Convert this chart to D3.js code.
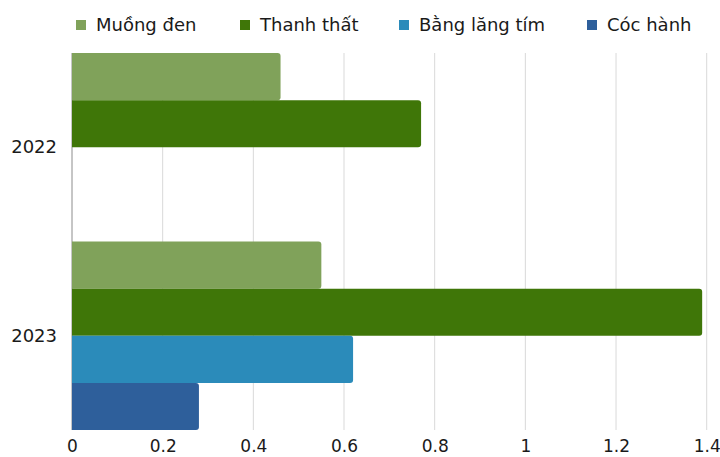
<!DOCTYPE html>
<html><head><meta charset="utf-8">
<script src="https://cdn.jsdelivr.net/npm/d3@7"></script>
<style>body{margin:0;background:#fff}svg{display:block;font-family:"DejaVu Sans",sans-serif}</style>
</head><body><svg id="c" width="720" height="457"></svg>
<script>
const categories = ["2022", "2023"];
const seriesNames = ["Muồng đen", "Thanh thất", "Bằng lăng tím", "Cóc hành"];
const muongDen = [0.46, 0.55];
const thanhThat = [0.77, 1.39];
const bangLangTim = [0, 0.62];
const cocHanh = [0, 0.28];
const xTicks = [0, 0.2, 0.4, 0.6, 0.8, 1, 1.2, 1.4];
const colors = ["#80a25a", "#3f7608", "#2b8bba", "#2e5f9b"];
const values = [muongDen, thanhThat, bangLangTim, cocHanh];

const FONT = "DejaVu Sans";
const svg = d3.select("#c");
const m = {l: 72, r: 13.3, t: 53, b: 27};
const W = 720, H = 457;
const x = d3.scaleLinear().domain([0, 1.4]).range([m.l, W - m.r]);
const y = d3.scaleBand().domain(categories).range([m.t, H - m.b]).padding(0);
const ys = d3.scaleBand().domain(seriesNames).range([0, y.bandwidth()]).padding(0);

// gridlines
svg.append("g").selectAll("line").data(xTicks.slice(1)).join("line")
  .attr("x1", d => x(d)).attr("x2", d => x(d))
  .attr("y1", m.t).attr("y2", H - m.b)
  .attr("stroke", "#d9d9d9").attr("stroke-width", 1);
// axis line at 0
svg.append("line").attr("x1", x(0)).attr("x2", x(0)).attr("y1", m.t).attr("y2", H - m.b)
  .attr("stroke", "#8c8c8c").attr("stroke-width", 1);

// bars
const r = 3;
function barPath(x0, x1, y0, h) {
  const w = x1 - x0;
  if (w <= 0) return "";
  const rr = Math.min(r, w, h / 2);
  return `M${x0},${y0}H${x1 - rr}Q${x1},${y0} ${x1},${y0 + rr}V${y0 + h - rr}Q${x1},${y0 + h} ${x1 - rr},${y0 + h}H${x0}Z`;
}
seriesNames.forEach((s, si) => {
  svg.append("g").selectAll("path").data(categories).join("path")
    .attr("d", (c, ci) => barPath(x(0), x(values[si][ci]), y(c) + ys(s), ys.bandwidth()))
    .attr("fill", colors[si]);
});

// x axis labels
const xAxis = d3.axisBottom(x).tickValues(xTicks).tickSize(0).tickPadding(0).tickFormat(d => String(d));
const gx = svg.append("g").attr("transform", `translate(0,${H - m.b})`).call(xAxis);
gx.select(".domain").remove();
gx.selectAll("text").attr("font-family", FONT).attr("font-size", 17).attr("fill", "#1a1a1a")
  .attr("dy", null).attr("y", 22);

// y axis labels
const yAxis = d3.axisLeft(y).tickSize(0).tickPadding(15);
const gy = svg.append("g").attr("transform", `translate(${m.l},0)`).call(yAxis);
gy.select(".domain").remove();
gy.selectAll("text").attr("font-family", FONT).attr("font-size", 18).attr("fill", "#1a1a1a");

// legend
const legendX = [76, 240, 399, 587];
const lg = svg.append("g");
seriesNames.forEach((s, i) => {
  const g = lg.append("g").attr("transform", `translate(${legendX[i]},0)`);
  g.append("rect").attr("x", 0).attr("y", 20).attr("width", 10).attr("height", 10).attr("fill", colors[i]);
  g.append("text").attr("x", 20).attr("y", 25).attr("dy", "0.35em").attr("font-size", 18)
    .attr("font-family", FONT).attr("fill", "#1a1a1a").text(s);
});
</script></body></html>
